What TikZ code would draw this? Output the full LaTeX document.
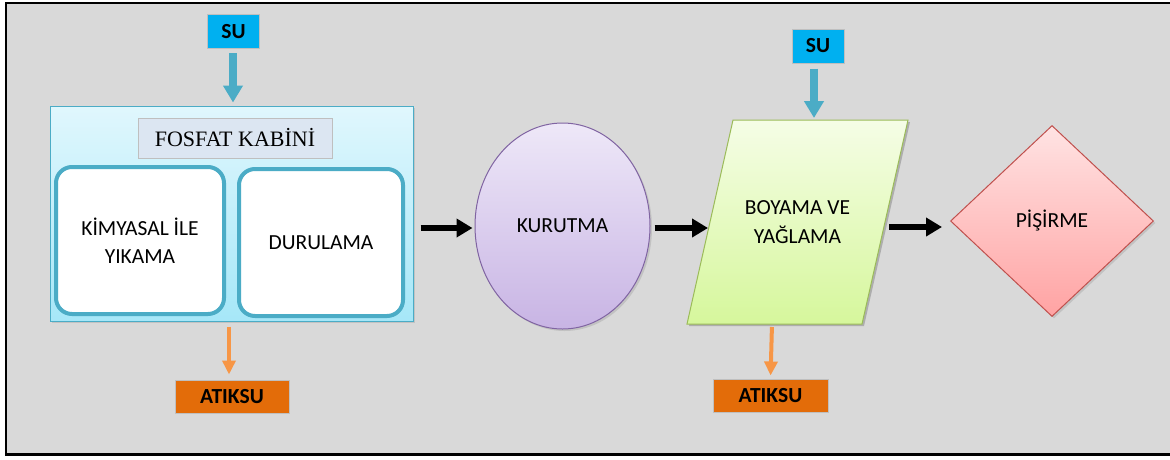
\documentclass[tikz,border=0pt]{standalone}
\usepackage{fontspec}
\setmainfont{Carlito}
\newfontfamily\seriffont{Liberation Serif}
\usetikzlibrary{arrows.meta,shapes.geometric,shadows}
\definecolor{bggray}{HTML}{D9D9D9}
\definecolor{sublue}{HTML}{00B0F0}
\definecolor{aqua}{HTML}{4BACC6}
\definecolor{atikor}{HTML}{E36C09}
\definecolor{lightor}{HTML}{F79646}
\definecolor{cyantop}{HTML}{E0F7FD}
\definecolor{cyanbot}{HTML}{A6E7F8}
\definecolor{labfill}{HTML}{DCE6F2}
\definecolor{purtop}{HTML}{EEE8F8}
\definecolor{purbot}{HTML}{C8B4E4}
\definecolor{purline}{HTML}{8064A2}
\definecolor{grntop}{HTML}{F5FDE6}
\definecolor{grnbot}{HTML}{D6F79C}
\definecolor{grnline}{HTML}{9BBB59}
\definecolor{redtop}{HTML}{FFE3E3}
\definecolor{redbot}{HTML}{FFA3A3}
\definecolor{redline}{HTML}{C0504D}
\tikzset{
  sh/.style={drop shadow={shadow xshift=2pt,shadow yshift=-2pt,opacity=0.25}},
  subox/.style={fill=sublue,draw=black!25,line width=1pt,minimum width=52pt,minimum height=34pt,inner sep=0pt,
    font=\fontsize{21.5}{24}\selectfont\bfseries},
  atikbox/.style={fill=atikor,draw=black!25,line width=1pt,minimum width=114pt,minimum height=33pt,inner sep=0pt,
    font=\fontsize{21.5}{24}\selectfont\bfseries},
  inbox/.style={fill=white,draw=aqua,line width=4pt,rounded corners=16pt,inner sep=0pt,align=center,
    font=\fontsize{21.5}{28}\selectfont},
  bluearr/.style={draw=aqua,line width=8pt,-{Triangle[width=19pt,length=17pt]}},
  orarr/.style={draw=lightor,line width=4pt,-{Triangle[width=13pt,length=14pt]}},
  blkarr/.style={draw=black,line width=6.5pt,-{Triangle[width=18pt,length=16pt]}},
  proc/.style={font=\fontsize{21.5}{29}\selectfont,align=center}
}
\begin{document}
\begin{tikzpicture}[x=1pt,y=-1pt]
\useasboundingbox (0,0) rectangle (1170,459);
% background and frame
\fill[white] (0,0) rectangle (1170,459);
\fill[bggray] (7,4) rectangle (1170,453);
\draw[black,line width=2.5pt] (5,3.2) -- (1170,3.2);
\draw[black,line width=2.5pt] (6,2) -- (6,456);
\draw[black,line width=3.6pt] (5,454.5) -- (1170,454.5);

% FOSFAT cabin
\node[sh,draw=aqua,line width=1pt,top color=cyantop,bottom color=cyanbot,minimum width=363pt,minimum height=215pt,inner sep=0pt] (fosfat) at (231.5,213.5) {};
\node[fill=labfill,draw=black!25,line width=1pt,minimum width=194pt,minimum height=40pt,inner sep=0pt,
  font=\seriffont\fontsize{22}{24}\selectfont] (lab) at (235,138) {FOSFAT KABİNİ};
\node[inbox,minimum width=168pt,minimum height=147pt] (kim) at (140,240.5) {KİMYASAL İLE\\YIKAMA};
\node[inbox,minimum width=164pt,minimum height=147pt] (dur) at (321,242.5) {DURULAMA};

\node[subox] (su1) at (233.5,31.5) {SU};
\node[atikbox] (atik1) at (232,396.5) {ATIKSU};

% KURUTMA
\node[sh,ellipse,draw=purline,line width=1pt,top color=purtop,bottom color=purbot,minimum width=175pt,minimum height=206pt,inner sep=0pt,proc] (kur) at (562.5,226) {KURUTMA};

% BOYAMA parallelogram
\coordinate (ptl) at (733,120);
\coordinate (ptr) at (908,120);
\coordinate (pbr) at (862,324);
\coordinate (pbl) at (687,324);
\fill[black,opacity=0.2] ([xshift=2pt,yshift=-2pt]ptl) -- ([xshift=2pt,yshift=-2pt]ptr) -- ([xshift=2pt,yshift=-2pt]pbr) -- ([xshift=2pt,yshift=-2pt]pbl) -- cycle;
\draw[grnline,line width=1pt,top color=grntop,bottom color=grnbot] (ptl) -- (ptr) -- (pbr) -- (pbl) -- cycle;
\node[proc] (boya) at (797.5,222) {BOYAMA VE\\YAĞLAMA};
\coordinate (pleft) at (708,228);
\coordinate (pright) at (889,227);
\coordinate (ptop) at (814,120);
\coordinate (pbot) at (772,324);

\node[subox] (su2) at (818,46) {SU};
\node[atikbox,minimum width=115pt] (atik2) at (770.5,395.5) {ATIKSU};

% PISIRME
\node[sh,diamond,draw=redline,line width=1pt,top color=redtop,bottom color=redbot,minimum width=203pt,minimum height=191pt,inner sep=0pt,proc] (pis) at (1052,221) {PİŞİRME};

% connectors
\draw[bluearr,shorten <=4pt,shorten >=3pt] ([xshift=-0.5pt]su1.south) -- ([xshift=1.5pt]fosfat.north);
\draw[orarr,shorten <=5pt,shorten >=5pt] ([xshift=-2.5pt]fosfat.south) -- ([xshift=-3pt]atik1.north);
\draw[blkarr,shorten <=7pt,shorten >=2pt] (fosfat.east |- 0,228) -- (kur.west |- 0,228);
\draw[blkarr,shorten <=4pt] (kur.east |- 0,228) -- (pleft);
\draw[blkarr,shorten >=8pt] (pright) -- (pis.west |- pright);
\draw[bluearr,shorten <=5pt,shorten >=2pt] ([xshift=-4pt]su2.south) -- (ptop);
\draw[orarr,shorten <=3pt,shorten >=3pt] (pbot) -- (atik2.north);
\end{tikzpicture}
\end{document}
